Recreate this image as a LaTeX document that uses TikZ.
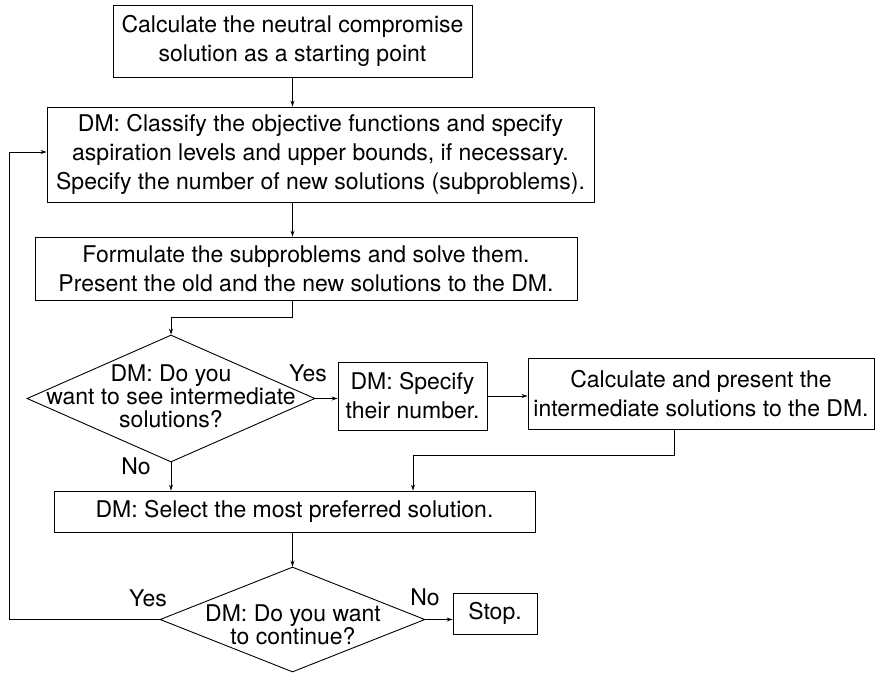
\documentclass[tikz,border=0pt]{standalone}
\usepackage{fontspec}
\setmainfont{TeX Gyre Heros}
\usetikzlibrary{arrows.meta,shapes.geometric}
\begin{document}
\begin{tikzpicture}[x=1pt,y=1pt,yscale=-1,xscale=1,
	box/.style={draw,line width=0.9pt,rectangle,inner sep=0pt,align=center,font=\fontsize{23}{29}\selectfont},
	query/.style={draw,line width=0.9pt,diamond,inner sep=0pt},
	querytext/.style={inner sep=0pt,align=center,font=\fontsize{23}{23}\selectfont},
	tag/.style={inner sep=0.75pt,font=\fontsize{23}{25}\selectfont},
	arr/.style={line width=0.9pt,-{Stealth[length=6pt,width=4pt]}}]
	\useasboundingbox (0,0) rectangle (875,675);
	
	%Shape: Rectangle [id:start]
	\node [box,minimum width=359pt,minimum height=72pt] (start) at (292.5,41) {Calculate the neutral compromise\\solution as a starting point};
	%Shape: Rectangle [id:classify]
	\node [box,minimum width=547pt,minimum height=95pt] (classify) at (320.5,154.5) {DM: Classify the objective functions and specify\\aspiration levels and upper bounds, if necessary.\\Specify the number of new solutions (subproblems).};
	%Shape: Rectangle [id:formulate]
	\node [box,minimum width=542pt,minimum height=63pt] (formulate) at (306,268.5) {Formulate the subproblems and solve them.\\Present the old and the new solutions to the DM.};
	%Shape: Diamond [id:seeint]
	\node [query,minimum width=288pt,minimum height=127pt] (seeint) at (171,398.5) {};
	\node [querytext] (seeinttext) at (171,396) {DM: Do you\\want to see intermediate\\solutions?};
	%Shape: Rectangle [id:specify]
	\node [box,minimum width=149pt,minimum height=68pt] (specify) at (412.5,396) {DM: Specify\\their number.};
	%Shape: Rectangle [id:calc]
	\node [box,minimum width=346pt,minimum height=71pt] (calc) at (701,393.5) {Calculate and present the\\intermediate solutions to the DM.};
	%Shape: Rectangle [id:select]
	\node [box,minimum width=481pt,minimum height=41pt] (select) at (294.5,511.5) {DM: Select the most preferred solution.};
	%Shape: Diamond [id:cont]
	\node [query,minimum width=265pt,minimum height=105pt] (cont) at (292.5,619.5) {};
	\node [querytext] (conttext) at (293,625) {DM: Do you want\\to continue?};
	%Shape: Rectangle [id:stop]
	\node [box,minimum width=84pt,minimum height=41pt] (stop) at (495,613.5) {Stop.};
	
	%Straight Lines
	\draw [arr] (start.south) -- (start.south |- classify.north);
	\draw [arr] (classify.south -| start) -- (formulate.north -| start);
	\draw [arr] (formulate.south -| start) -- ++(0,17) -| (seeint.north);
	\draw [arr] (seeint.east) -- (specify.west |- seeint.east);
	\draw [arr] (specify.east) -- (specify.east -| calc.west);
	\draw [arr] ([xshift=-27pt]calc.south) -- ++(0,26) -| ([xshift=118.5pt]select.north);
	\draw [arr] (seeint.south) -- (seeint.south |- select.north);
	\draw [arr] (select.south -| cont) -- (cont.north);
	\draw [arr] (cont.east) -- (cont.east -| stop.west);
	%Feedback loop
	\coordinate (back) at (9,152);
	\draw [arr] (cont.west) -| (back) -- (back -| classify.west);
	
	% Text Node
	\node [tag] (yes1) at (308,373) {Yes};
	% Text Node
	\node [tag] (no1) at (136,466) {No};
	% Text Node
	\node [tag] (yes2) at (148,598) {Yes};
	% Text Node
	\node [tag] (no2) at (425,597) {No};
\end{tikzpicture}
\end{document}
